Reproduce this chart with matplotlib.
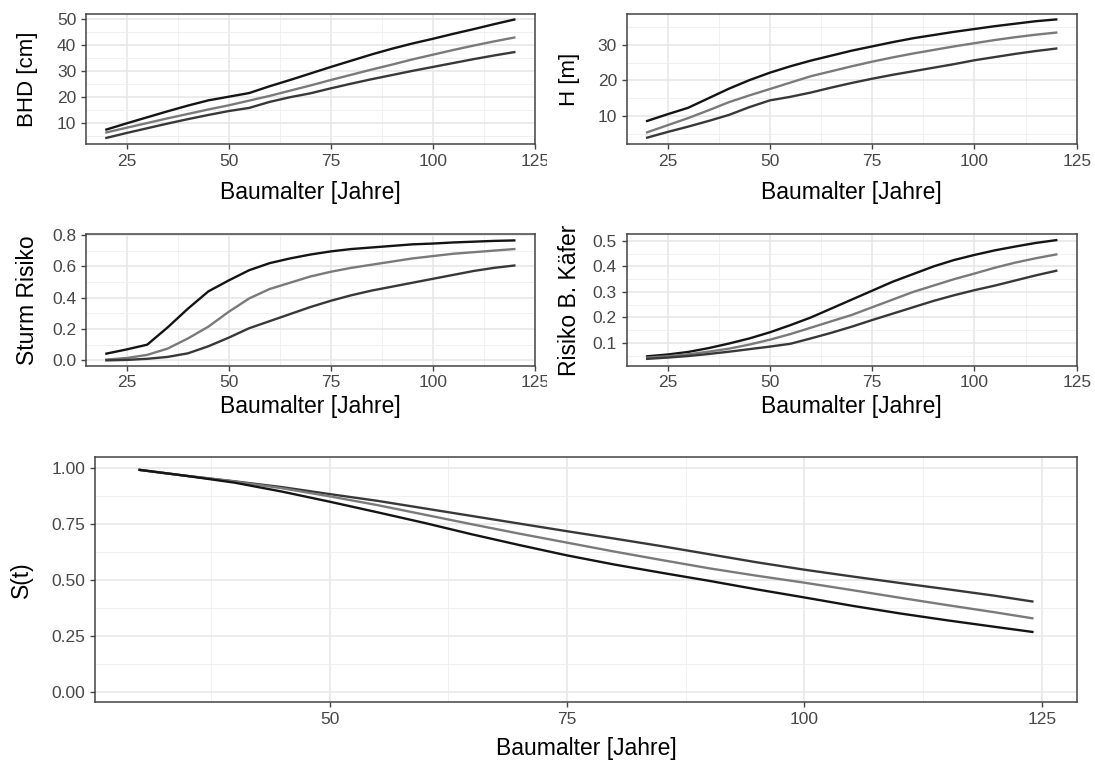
import matplotlib
matplotlib.use("Agg")
import matplotlib.pyplot as plt
from matplotlib.ticker import FixedLocator, FormatStrFormatter
from matplotlib.transforms import Bbox

plt.rcParams['font.family'] = ['Liberation Sans', 'DejaVu Sans']

# ---------------- data ----------------
age = [20, 25, 30, 35, 40, 45, 50, 55, 60, 65, 70, 75, 80, 85, 90, 95, 100, 105, 110, 115, 120]

bhd_black = [7.6, 10.0, 12.3, 14.6, 16.8, 18.8, 20.2, 21.6, 24.2, 26.6, 29.1, 31.6, 34.0, 36.4, 38.6, 40.6, 42.4, 44.3, 46.1, 48.0, 49.8]
bhd_gray  = [6.5, 8.3, 10.1, 11.9, 13.6, 15.3, 16.9, 18.7, 20.5, 22.5, 24.5, 26.6, 28.6, 30.6, 32.5, 34.5, 36.3, 38.1, 39.8, 41.4, 42.9]
bhd_dark  = [4.4, 6.3, 8.1, 9.9, 11.6, 13.2, 14.7, 15.9, 18.2, 20.0, 21.5, 23.4, 25.2, 26.9, 28.5, 30.1, 31.6, 33.1, 34.6, 36.0, 37.3]

h_black = [8.6, 10.5, 12.3, 15.0, 17.7, 20.1, 22.2, 24.0, 25.6, 27.0, 28.4, 29.6, 30.8, 31.9, 32.8, 33.7, 34.5, 35.3, 36.0, 36.7, 37.2]
h_gray  = [5.4, 7.4, 9.4, 11.6, 13.9, 15.8, 17.6, 19.4, 21.2, 22.6, 24.0, 25.3, 26.5, 27.6, 28.6, 29.6, 30.5, 31.4, 32.2, 32.9, 33.5]
h_dark  = [3.9, 5.5, 7.0, 8.6, 10.3, 12.5, 14.4, 15.4, 16.6, 18.0, 19.3, 20.5, 21.6, 22.6, 23.6, 24.6, 25.7, 26.6, 27.5, 28.3, 29.0]

sturm_black = [0.043, 0.07, 0.10, 0.21, 0.33, 0.44, 0.51, 0.575, 0.62, 0.65, 0.675, 0.695, 0.71, 0.72, 0.73, 0.74, 0.745, 0.752, 0.757, 0.762, 0.765]
sturm_gray  = [0.005, 0.015, 0.035, 0.075, 0.14, 0.215, 0.31, 0.395, 0.455, 0.495, 0.535, 0.565, 0.59, 0.61, 0.63, 0.65, 0.665, 0.68, 0.69, 0.70, 0.71]
sturm_dark  = [0.0, 0.003, 0.01, 0.022, 0.045, 0.09, 0.145, 0.205, 0.25, 0.295, 0.34, 0.38, 0.415, 0.445, 0.47, 0.495, 0.52, 0.545, 0.57, 0.59, 0.605]

kaefer_black = [0.048, 0.055, 0.065, 0.08, 0.098, 0.118, 0.142, 0.17, 0.20, 0.235, 0.27, 0.305, 0.34, 0.37, 0.40, 0.425, 0.445, 0.463, 0.478, 0.492, 0.503]
kaefer_gray  = [0.043, 0.048, 0.056, 0.066, 0.078, 0.094, 0.113, 0.135, 0.16, 0.185, 0.21, 0.24, 0.27, 0.30, 0.325, 0.35, 0.372, 0.395, 0.415, 0.432, 0.447]
kaefer_dark  = [0.038, 0.043, 0.049, 0.057, 0.066, 0.076, 0.086, 0.097, 0.118, 0.14, 0.164, 0.19, 0.215, 0.24, 0.265, 0.287, 0.307, 0.325, 0.345, 0.365, 0.383]

age_s = [30, 35, 40, 45, 50, 55, 60, 65, 70, 75, 80, 85, 90, 95, 100, 105, 110, 115, 120, 124]
s_dark  = [0.993, 0.966, 0.942, 0.916, 0.885, 0.855, 0.821, 0.787, 0.753, 0.719, 0.686, 0.652, 0.616, 0.580, 0.547, 0.517, 0.488, 0.460, 0.431, 0.405]
s_gray  = [0.993, 0.966, 0.941, 0.911, 0.875, 0.836, 0.793, 0.750, 0.708, 0.668, 0.628, 0.590, 0.553, 0.520, 0.489, 0.456, 0.422, 0.389, 0.357, 0.330]
s_black = [0.993, 0.966, 0.936, 0.896, 0.851, 0.804, 0.756, 0.705, 0.657, 0.611, 0.570, 0.533, 0.497, 0.459, 0.423, 0.386, 0.352, 0.321, 0.292, 0.269]

xlabel = "Baumalter [Jahre]"

# ---------------- style ----------------
W, H = 1095, 762
C_BLACK, C_GRAY, C_DARK = "#141414", "#7a7a7a", "#383838"
LW = 1.7

fig = plt.figure(figsize=(W / 100, H / 100), dpi=100)


def px_axes(l, t, r, b):
    return fig.add_axes([l / W, 1 - b / H, (r - l) / W, (b - t) / H])


def style(ax, xmaj, xmin, ymaj, ymin, fmt):
    ax.set_facecolor("white")
    ax.xaxis.set_major_locator(FixedLocator(xmaj))
    ax.xaxis.set_minor_locator(FixedLocator(xmin))
    ax.yaxis.set_major_locator(FixedLocator(ymaj))
    ax.yaxis.set_minor_locator(FixedLocator(ymin))
    ax.yaxis.set_major_formatter(FormatStrFormatter(fmt))
    ax.grid(which="major", color="#e6e6e6", lw=1.1, zorder=0)
    ax.grid(which="minor", color="#eeeeee", lw=0.6, zorder=0)
    ax.set_axisbelow(True)
    for s in ax.spines.values():
        s.set_color("#444444")
        s.set_linewidth(1.1)
    ax.tick_params(which="major", length=3.5, width=1.0, color="#444444",
                   labelsize=12.5, labelcolor="#474747", pad=3.5)
    ax.tick_params(which="minor", length=0)


def ftext(x, y, s, size, rot=0):
    fig.text(x / W, 1 - y / H, s, ha="center", va="center", rotation=rot,
             fontsize=size, color="black")


upper_xmaj = [25, 50, 75, 100, 125]
upper_xmin = [12.5, 37.5, 62.5, 87.5, 112.5]

# Panel 1: BHD
ax1 = px_axes(86, 14, 534.7, 144)
ax1.plot(age, bhd_black, color=C_BLACK, lw=LW)
ax1.plot(age, bhd_gray, color=C_GRAY, lw=LW)
ax1.plot(age, bhd_dark, color=C_DARK, lw=LW)
ax1.set_xlim(15, 125)
ax1.set_ylim(2.06, 51.92)
style(ax1, upper_xmaj, upper_xmin, [10, 20, 30, 40, 50], [5, 15, 25, 35, 45], "%d")

# Panel 2: H
ax2 = px_axes(626.7, 14, 1076.7, 144)
ax2.plot(age, h_black, color=C_BLACK, lw=LW)
ax2.plot(age, h_gray, color=C_GRAY, lw=LW)
ax2.plot(age, h_dark, color=C_DARK, lw=LW)
ax2.set_xlim(15, 125)
ax2.set_ylim(2.11, 38.73)
style(ax2, upper_xmaj, upper_xmin, [10, 20, 30], [5, 15, 25, 35], "%d")

# Panel 3: Sturm Risiko
ax3 = px_axes(86, 234, 534.7, 365.7)
ax3.plot(age, sturm_black, color=C_BLACK, lw=LW)
ax3.plot(age, sturm_gray, color=C_GRAY, lw=LW)
ax3.plot(age, sturm_dark, color=C_DARK, lw=LW)
ax3.set_xlim(15, 125)
ax3.set_ylim(-0.034, 0.806)
style(ax3, upper_xmaj, upper_xmin, [0.0, 0.2, 0.4, 0.6, 0.8], [0.1, 0.3, 0.5, 0.7], "%.1f")

# Panel 4: Risiko B. Käfer
ax4 = px_axes(626.7, 234, 1076.7, 365.7)
ax4.plot(age, kaefer_black, color=C_BLACK, lw=LW)
ax4.plot(age, kaefer_gray, color=C_GRAY, lw=LW)
ax4.plot(age, kaefer_dark, color=C_DARK, lw=LW)
ax4.set_xlim(15, 125)
ax4.set_ylim(0.0112, 0.527)
style(ax4, upper_xmaj, upper_xmin, [0.1, 0.2, 0.3, 0.4, 0.5], [0.05, 0.15, 0.25, 0.35, 0.45], "%.1f")

# Panel 5: S(t)
ax5 = px_axes(95, 456.7, 1077, 702.3)
ax5.plot(age_s, s_dark, color=C_DARK, lw=LW)
ax5.plot(age_s, s_gray, color=C_GRAY, lw=LW)
ax5.plot(age_s, s_black, color=C_BLACK, lw=LW)
ax5.set_xlim(25.3, 128.7)
ax5.set_ylim(-0.0455, 1.052)
style(ax5, [50, 75, 100, 125], [37.5, 62.5, 87.5, 112.5],
      [0.0, 0.25, 0.5, 0.75, 1.0], [0.125, 0.375, 0.625, 0.875], "%.2f")

# titles
ftext(310, 192, xlabel, 16.5)
ftext(851.7, 192, xlabel, 16.5)
ftext(310, 406, xlabel, 16.5)
ftext(851.7, 406, xlabel, 16.5)
ftext(586, 749, xlabel, 16.5)

ftext(28, 79, "BHD [cm]", 16, rot=90)
ftext(569, 79, "H [m]", 16, rot=90)
ftext(27, 300, "Sturm Risiko", 16.5, rot=90)
ftext(569, 300, "Risiko B. Käfer", 16.5, rot=90)
ftext(21, 580, "S(t)", 16.5, rot=90)

# clip the right-most tick labels of the left column at the panel cell edge
fig.canvas.draw()
clip_bb = Bbox.from_extents(0, 0, 547, H)
for ax in (ax1, ax3):
    for lab in ax.get_xticklabels():
        lab.set_clip_box(clip_bb)
        lab.set_clip_on(True)

fig.savefig("out.png", dpi=100, facecolor="white")
